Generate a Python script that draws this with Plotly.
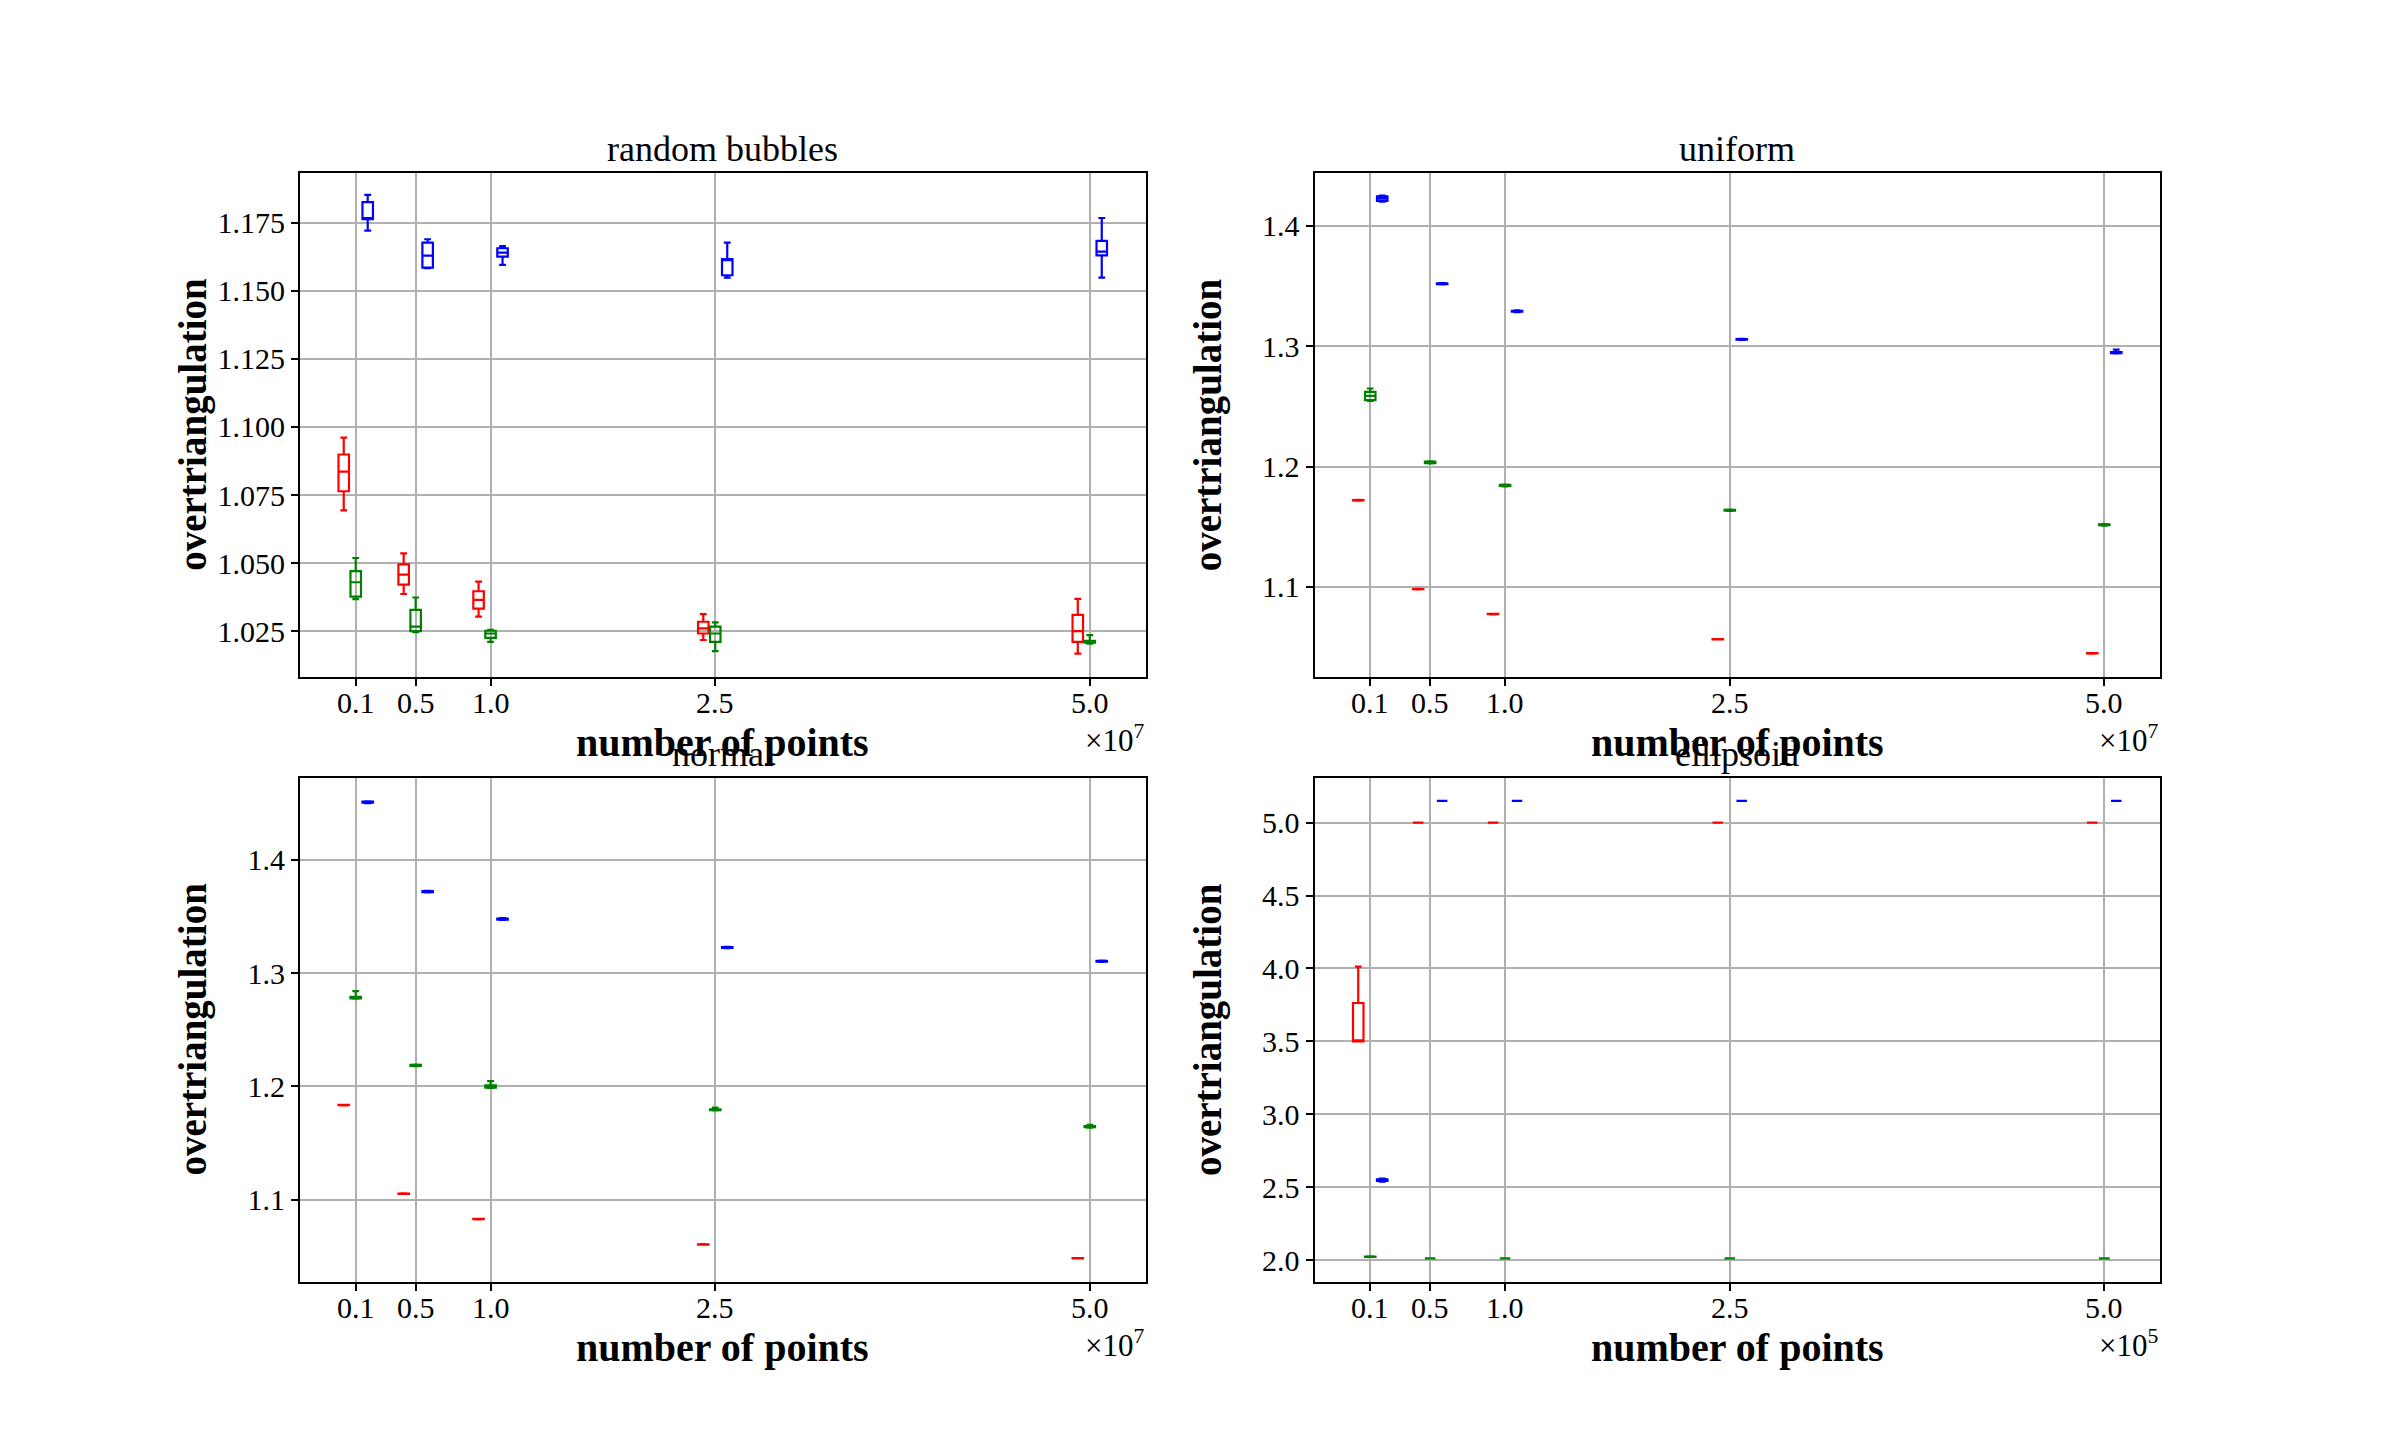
import plotly.graph_objects as go
from plotly.subplots import make_subplots

# x positions (units of the axis multiplier) and tick labels
positions = [0.1, 0.5, 1.0, 2.5, 5.0]
tick_labels = ["0.1", "0.5", "1.0", "2.5", "5.0"]
offsets = {"red": -0.08, "green": 0.0, "blue": 0.08}

# each entry: [lower whisker, q1, median, q3, upper whisker]
bubbles_red = [[1.0694, 1.0764, 1.0836, 1.0899, 1.0961], [1.0387, 1.0421, 1.0458, 1.0496, 1.0536],
               [1.0304, 1.0333, 1.0365, 1.0397, 1.0432], [1.0218, 1.0242, 1.0261, 1.0285, 1.0313],
               [1.0168, 1.0211, 1.0251, 1.0310, 1.0369]]
bubbles_green = [[1.0368, 1.0377, 1.0430, 1.0471, 1.0519], [1.0247, 1.0251, 1.0267, 1.0329, 1.0374],
                 [1.0211, 1.0226, 1.0242, 1.0252, 1.0255], [1.0177, 1.0211, 1.0242, 1.0267, 1.0283],
                 [1.0205, 1.0208, 1.0212, 1.0215, 1.0236]]
bubbles_blue = [[1.1721, 1.1763, 1.1767, 1.1825, 1.1852], [1.1583, 1.1585, 1.1629, 1.1677, 1.1689],
                [1.1595, 1.1625, 1.1640, 1.1656, 1.1664], [1.1548, 1.1557, 1.1612, 1.1616, 1.1677],
                [1.1548, 1.1630, 1.1644, 1.1683, 1.1767]]

uniform_red = [[1.1717, 1.1718, 1.1720, 1.1722, 1.1723], [1.0980, 1.0981, 1.0982, 1.0983, 1.0984],
               [1.0773, 1.0774, 1.0775, 1.0776, 1.0777], [1.0564, 1.0565, 1.0566, 1.0567, 1.0568],
               [1.0447, 1.0448, 1.0449, 1.0450, 1.0451]]
uniform_green = [[1.2545, 1.2551, 1.2587, 1.2620, 1.2648], [1.2025, 1.2028, 1.2034, 1.2040, 1.2043],
                 [1.1836, 1.1839, 1.1843, 1.1847, 1.1850], [1.1631, 1.1634, 1.1637, 1.1640, 1.1643],
                 [1.1510, 1.1513, 1.1516, 1.1519, 1.1522]]
uniform_blue = [[1.4199, 1.4205, 1.4224, 1.4244, 1.4249], [1.3512, 1.3515, 1.3518, 1.3521, 1.3524],
                [1.3282, 1.3286, 1.3289, 1.3292, 1.3296], [1.3052, 1.3054, 1.3056, 1.3058, 1.3060],
                [1.2940, 1.2942, 1.2946, 1.2950, 1.2970]]

normal_red = [[1.1833, 1.1834, 1.1835, 1.1836, 1.1837], [1.1051, 1.1052, 1.1053, 1.1054, 1.1055],
              [1.0827, 1.0828, 1.0829, 1.0830, 1.0831], [1.0603, 1.0604, 1.0605, 1.0606, 1.0607],
              [1.0481, 1.0482, 1.0483, 1.0484, 1.0485]]
normal_green = [[1.2774, 1.2776, 1.2782, 1.2791, 1.2841], [1.2178, 1.2181, 1.2185, 1.2189, 1.2192],
                [1.1986, 1.1989, 1.1996, 1.2008, 1.2047], [1.1787, 1.1790, 1.1794, 1.1798, 1.1812],
                [1.1636, 1.1640, 1.1645, 1.1650, 1.1660]]
normal_blue = [[1.4500, 1.4503, 1.4508, 1.4513, 1.4516], [1.3712, 1.3715, 1.3719, 1.3723, 1.3726],
               [1.3469, 1.3472, 1.3476, 1.3480, 1.3484], [1.3219, 1.3222, 1.3225, 1.3228, 1.3231],
               [1.3099, 1.3101, 1.3104, 1.3107, 1.3109]]

ellipsoid_red = [[3.5, 3.5, 3.5, 3.763, 4.012], [5.0, 5.0, 5.0, 5.0, 5.0], [5.0, 5.0, 5.0, 5.0, 5.0],
                 [5.0, 5.0, 5.0, 5.0, 5.0], [5.0, 5.0, 5.0, 5.0, 5.0]]
ellipsoid_green = [[2.021, 2.022, 2.023, 2.024, 2.025], [2.011, 2.011, 2.011, 2.011, 2.011],
                   [2.011, 2.011, 2.011, 2.011, 2.011], [2.011, 2.011, 2.011, 2.011, 2.011],
                   [2.011, 2.011, 2.011, 2.011, 2.011]]
ellipsoid_blue = [[2.538, 2.542, 2.548, 2.554, 2.558], [5.15, 5.15, 5.15, 5.15, 5.15],
                  [5.15, 5.15, 5.15, 5.15, 5.15], [5.15, 5.15, 5.15, 5.15, 5.15],
                  [5.15, 5.15, 5.15, 5.15, 5.15]]

titles = ["random bubbles", "uniform", "normal", "ellipsoid"]
multipliers = ["×10<sup>7</sup>", "×10<sup>7</sup>", "×10<sup>7</sup>", "×10<sup>5</sup>"]
y_ticks = [[1.025, 1.050, 1.075, 1.100, 1.125, 1.150, 1.175], [1.1, 1.2, 1.3, 1.4],
           [1.1, 1.2, 1.3, 1.4], [2.0, 2.5, 3.0, 3.5, 4.0, 4.5, 5.0]]
y_formats = [".3f", ".1f", ".1f", ".1f"]
y_ranges = [[1.0083, 1.1933], [1.0254, 1.4439], [1.0277, 1.4725], [1.852, 5.309]]

panels = [
    {"red": bubbles_red, "green": bubbles_green, "blue": bubbles_blue},
    {"red": uniform_red, "green": uniform_green, "blue": uniform_blue},
    {"red": normal_red, "green": normal_green, "blue": normal_blue},
    {"red": ellipsoid_red, "green": ellipsoid_green, "blue": ellipsoid_blue},
]

W, H = 2400, 1440
FONT = "Liberation Serif"
colors = {"red": "#ff0000", "green": "#008000", "blue": "#0000ff"}

fig = make_subplots(rows=2, cols=2)

# axes boxes in pixels: (left, right, top, bottom)
boxes = [(300, 1145.5, 172.8, 676.8), (1314.5, 2160, 172.8, 676.8),
         (300, 1145.5, 777.6, 1281.6), (1314.5, 2160, 777.6, 1281.6)]

annotations = []
for i, panel in enumerate(panels):
    r, c = i // 2 + 1, i % 2 + 1
    for name in ["red", "green", "blue"]:
        stats = panel[name]
        fig.add_trace(go.Box(
            x=[p + offsets[name] for p in positions],
            lowerfence=[s[0] for s in stats], q1=[s[1] for s in stats],
            median=[s[2] for s in stats], q3=[s[3] for s in stats],
            upperfence=[s[4] for s in stats],
            width=0.07, whiskerwidth=0.65,
            line=dict(color=colors[name], width=2.2),
            fillcolor="rgba(255,255,255,0)", showlegend=False, boxpoints=False,
        ), row=r, col=c)
    L, R, T, B = boxes[i]
    xa = "xaxis" if i == 0 else f"xaxis{i+1}"
    ya = "yaxis" if i == 0 else f"yaxis{i+1}"
    fig.layout[xa].update(
        domain=[L / W, R / W], range=[-0.272, 5.372],
        tickvals=positions, ticktext=tick_labels,
        showgrid=True, gridcolor="#b0b0b0", gridwidth=1.6,
        showline=True, mirror=True, linecolor="black", linewidth=2,
        ticks="outside", ticklen=7, tickwidth=1.6, tickcolor="black",
        zeroline=False, tickfont=dict(family=FONT, size=30, color="black"))
    fig.layout[ya].update(
        domain=[1 - B / H, 1 - T / H], range=y_ranges[i],
        tickvals=y_ticks[i], tickformat=y_formats[i],
        showgrid=True, gridcolor="#b0b0b0", gridwidth=1.6,
        showline=True, mirror=True, linecolor="black", linewidth=2,
        ticks="outside", ticklen=7, tickwidth=1.6, tickcolor="black",
        zeroline=False, tickfont=dict(family=FONT, size=30, color="black"))
    cx = (L + R) / 2
    # title
    annotations.append(dict(text=titles[i], x=cx / W, y=1 - (T - 24) / H, xref="paper", yref="paper",
                            xanchor="center", yanchor="middle", showarrow=False,
                            font=dict(family=FONT, size=36, color="black")))
    # x label
    annotations.append(dict(text="<b>number of points</b>", x=cx / W, y=1 - (B + 66) / H,
                            xref="paper", yref="paper", xanchor="center", yanchor="middle",
                            showarrow=False, font=dict(family=FONT, size=40, color="black")))
    # multiplier
    annotations.append(dict(text=multipliers[i], x=R / W, y=1 - (B + 62) / H,
                            xref="paper", yref="paper", xanchor="right", yanchor="middle",
                            showarrow=False, font=dict(family=FONT, size=31, color="black")))
    # y label
    annotations.append(dict(text="<b>overtriangulation</b>", x=(L - 107) / W, y=1 - (T + B) / 2 / H,
                            xref="paper", yref="paper", xanchor="center", yanchor="middle",
                            textangle=-90, showarrow=False,
                            font=dict(family=FONT, size=39, color="black")))
    # x tick labels drawn explicitly so they sit where the reference places them
    for p, t in zip(positions, tick_labels):
        annotations.append(dict(text=t, x=p, y=1 - (B + 26) / H, xref=xa.replace("axis", ""),
                                yref="paper", xanchor="center", yanchor="middle", showarrow=False,
                                font=dict(family=FONT, size=30, color="black")))
    fig.layout[xa].update(showticklabels=False)

fig.update_layout(width=W, height=H, margin=dict(l=0, r=0, t=0, b=0),
                  paper_bgcolor="white", plot_bgcolor="white",
                  boxmode="overlay", annotations=annotations,
                  font=dict(family=FONT, color="black"))

fig.write_html("out.html")
